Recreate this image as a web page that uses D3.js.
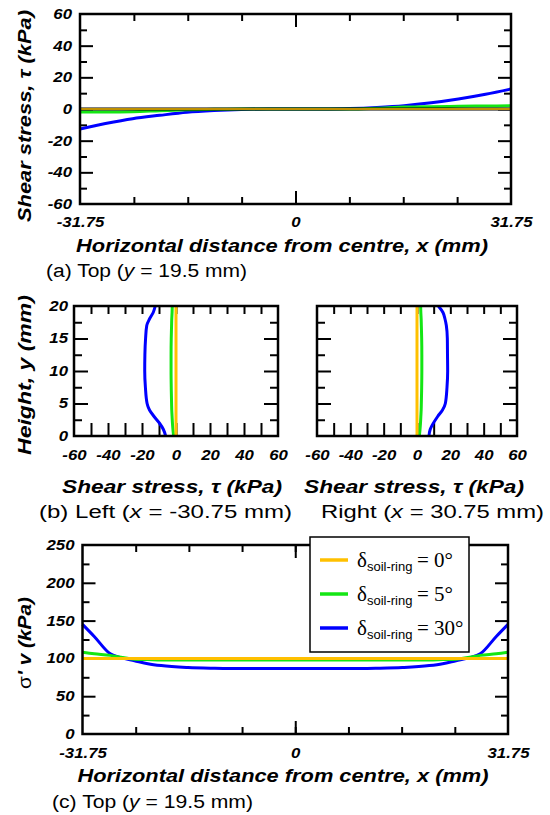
<!DOCTYPE html>
<html>
<head>
<meta charset="utf-8">
<script src="https://cdn.jsdelivr.net/npm/d3@7"></script>
<style>
  body { margin: 0; background: #fff; }
  svg { display: block; }
</style>
</head>
<body>
<div id="chart"></div>
<script>
// (a) shear stress along the top surface, y = 19.5 mm
const xTop = [-31.75, -28, -24, -20, -16, -12, -8, -4, 0, 4, 8, 12, 16, 20, 24, 28, 31.75];
const tauTop0 = [0, 0, 0, 0, 0, 0, 0, 0, 0, 0, 0, 0, 0, 0, 0, 0, 0];
const tauTop5 = [-1.9, -1.9, -1.7, -1.1, -0.5, -0.2, 0, 0, 0, 0, 0, 0.5, 1.2, 1.5, 1.7, 1.9, 2.0];
const tauTop30 = [-12.6, -9.2, -6.1, -4.0, -2.1, -1.0, -0.3, 0, 0, 0, 0.3, 1.0, 2.1, 3.9, 6.3, 9.3, 12.6];

// (b) shear stress along the walls
const yWall = [0, 1, 2, 3, 4, 5, 7.5, 10, 12.5, 15, 17, 18, 19, 20];
const tauLeft0 = [0, 0, 0, 0, 0, 0, 0, 0, 0, 0, 0, 0, 0, 0];
const tauLeft5 = [-1.4, -1.8, -2.1, -2.3, -2.5, -2.6, -2.8, -2.9, -2.9, -2.8, -2.6, -2.5, -2.3, -2.2];
const tauLeft30 = [-6.1, -7.4, -9.8, -12.9, -15.6, -17.0, -18.0, -18.4, -18.3, -17.9, -17.2, -15.6, -13.4, -12.2];
const tauRight0 = [0, 0, 0, 0, 0, 0, 0, 0, 0, 0, 0, 0, 0, 0];
const tauRight5 = [1.4, 1.8, 2.1, 2.3, 2.5, 2.6, 2.8, 2.9, 2.9, 2.8, 2.6, 2.5, 2.3, 2.2];
const tauRight30 = [7.2, 7.9, 9.9, 12.4, 15.3, 17.0, 18.0, 18.4, 18.3, 18.2, 17.6, 16.8, 15.6, 12.8];

// (c) vertical effective stress along the top
const xBot = [-31.75, -30, -27.6, -26, -24, -22, -20, -16, -12, -8, -4, 0, 4, 8, 12, 16, 20, 22, 24, 26, 27.6, 30, 31.75];
const sig0 = [100, 100, 100, 100, 100, 100, 100, 100, 100, 100, 100, 100, 100, 100, 100, 100, 100, 100, 100, 100, 100, 100, 100];
const sig5 = [108, 106, 104, 101.5, 99, 98.5, 98, 98, 98, 98, 98, 98, 98, 98, 98, 98, 98, 98.5, 99, 101.5, 104, 106, 108];
const sig30 = [145, 129, 106, 101, 97, 93, 90.5, 88, 87, 86.5, 86.5, 86.5, 86.5, 86.5, 87, 88, 90.5, 93, 97, 101, 106, 129, 145];

const legendAngles = ["0°", "5°", "30°"];
const colors = ["#ffc000", "#14e614", "#0000ff"];

const FONT = "'Liberation Sans', Arial, sans-serif";
const SERIF = "'Liberation Serif', 'Times New Roman', serif";
const sx = 1.2; // tick labels in the figure are wide

const svg = d3.select("#chart").append("svg")
    .attr("width", 550)
    .attr("height", 815)
    .style("font-family", FONT);

// inward ticks, no labels
function ticks(g, axisFn, scale, pos, vals, len, vertical) {
  const a = g.append("g")
      .attr("transform", vertical ? `translate(${pos},0)` : `translate(0,${pos})`)
      .call(axisFn(scale).tickValues(vals).tickSize(-len).tickFormat(""));
  a.select(".domain").remove();
  a.selectAll("line").attr("stroke", "#000").attr("stroke-width", 2);
}

function tickLabels(g, axisFn, scale, pos, vals, fmt, pad, vertical) {
  const a = g.append("g")
      .attr("transform", vertical ? `translate(${pos},0)` : `translate(0,${pos})`)
      .call(axisFn(scale).tickValues(vals).tickFormat(fmt).tickSize(0).tickPadding(pad));
  a.select(".domain").remove();
  a.selectAll("line").remove();
  a.selectAll("text")
      .attr("font-family", FONT)
      .attr("font-size", 14)
      .attr("font-weight", "bold")
      .attr("font-style", "italic")
      .attr("fill", "#000")
      .attr("transform", `scale(${sx},1)`);
}

function frame(g, x, y) {
  const [x0, x1] = x.range(), [y0, y1] = y.range();
  g.append("rect")
      .attr("x", x0).attr("y", y1)
      .attr("width", x1 - x0).attr("height", y0 - y1)
      .attr("fill", "none").attr("stroke", "#000").attr("stroke-width", 2.5);
}

function title(g, parts, x, y, len, opts = {}) {
  const t = g.append("text")
      .attr("font-family", FONT)
      .attr("font-size", opts.size || 17.5)
      .attr("font-weight", opts.weight || "bold")
      .attr("font-style", opts.style || "italic")
      .attr("text-anchor", opts.anchor || "middle")
      .attr("textLength", len)
      .attr("lengthAdjust", "spacingAndGlyphs");
  if (opts.rotate) t.attr("transform", `translate(${x},${y}) rotate(-90)`);
  else t.attr("x", x).attr("y", y);
  parts.forEach(p => {
    const s = t.append("tspan").text(p.t);
    if (p.style) s.attr("font-style", p.style);
    if (p.family) s.attr("font-family", p.family);
    if (p.weight) s.attr("font-weight", p.weight);
  });
  return t;
}

const fmtX = d => d === 0 ? "0" : d.toFixed(2);
const fmtInt = d => String(d); // plain hyphen for negatives, as in the figure

// ---------- (a) ----------
const gA = svg.append("g");
const xA = d3.scaleLinear().domain([-31.75, 31.75]).range([80, 511]);
const yA = d3.scaleLinear().domain([-60, 60]).range([204, 14]);
const xMinor = d3.range(-3, 4).map(i => i * 31.75 / 4);

ticks(gA, d3.axisBottom, xA, 204, xMinor, 7);
ticks(gA, d3.axisTop, xA, 14, xMinor, 7);
ticks(gA, d3.axisBottom, xA, 204, [0], 13);
ticks(gA, d3.axisTop, xA, 14, [0], 13);
ticks(gA, d3.axisLeft, yA, 80, [-40, -20, 0, 20, 40], 13, true);
ticks(gA, d3.axisRight, yA, 511, [-40, -20, 0, 20, 40], 13, true);
ticks(gA, d3.axisLeft, yA, 80, [-50, -30, -10, 10, 30, 50], 7, true);
ticks(gA, d3.axisRight, yA, 511, [-50, -30, -10, 10, 30, 50], 7, true);
tickLabels(gA, d3.axisBottom, xA, 204, [-31.75, 0, 31.75], fmtX, 13);
tickLabels(gA, d3.axisLeft, yA, 80, d3.range(-60, 61, 20), fmtInt, 8 / sx, true);

const lineA = d3.line().x(d => xA(d[0])).y(d => yA(d[1])).curve(d3.curveMonotoneX);
gA.append("path").datum(d3.zip(xTop, tauTop30)).attr("d", lineA)
    .attr("fill", "none").attr("stroke", colors[2]).attr("stroke-width", 3);
gA.append("path").datum(d3.zip(xTop, tauTop5)).attr("d", lineA)
    .attr("fill", "none").attr("stroke", colors[1]).attr("stroke-width", 3);
gA.append("path").datum(d3.zip(xTop, tauTop0)).attr("d", lineA)
    .attr("fill", "none").attr("stroke", "#000").attr("stroke-width", 3);
gA.append("path").datum(d3.zip(xTop, tauTop0)).attr("d", lineA)
    .attr("fill", "none").attr("stroke", colors[0]).attr("stroke-width", 1.6);
frame(gA, xA, yA);

title(gA, [{t: "Shear stress, τ (kPa)"}], 31, 116, 212, {size: 18, rotate: true});
title(gA, [{t: "Horizontal distance from centre, x (mm)"}], 282, 252, 412);
title(gA, [{t: "(a) Top ("}, {t: "y", style: "italic"}, {t: " = 19.5 mm)"}], 46, 277, 201,
    {size: 18, weight: "normal", style: "normal", anchor: "start"});

// ---------- (b) ----------
const gB = svg.append("g");
const yB = d3.scaleLinear().domain([0, 20]).range([436, 306]);
const xBL = d3.scaleLinear().domain([-60, 60]).range([74, 278]);
const xBR = d3.scaleLinear().domain([-60, 60]).range([317, 517]);
const tauTicks = d3.range(-50, 51, 10);

[[xBL, tauLeft0, tauLeft5, tauLeft30], [xBR, tauRight0, tauRight5, tauRight30]].forEach(([x, t0, t5, t30], i) => {
  const [xl, xr] = x.range();
  ticks(gB, d3.axisBottom, x, 436, tauTicks, 13);
  ticks(gB, d3.axisTop, x, 306, tauTicks, 8);
  ticks(gB, d3.axisLeft, yB, xl, [5, 10, 15], 14, true);
  ticks(gB, d3.axisRight, yB, xr, [5, 10, 15], 14, true);
  ticks(gB, d3.axisLeft, yB, xl, [2.5, 7.5, 12.5, 17.5], 8, true);
  ticks(gB, d3.axisRight, yB, xr, [2.5, 7.5, 12.5, 17.5], 8, true);
  tickLabels(gB, d3.axisBottom, x, 436, d3.range(-60, 61, 20), fmtInt, 14);

  const line = d3.line().x(d => x(d[0])).y(d => yB(d[1])).curve(d3.curveMonotoneY);
  [t30, t5, t0].forEach((vals, k) => {
    gB.append("path").datum(d3.zip(vals, yWall)).attr("d", line)
        .attr("fill", "none").attr("stroke", colors[2 - k]).attr("stroke-width", 3);
  });
  frame(gB, x, yB);
  title(gB, [{t: "Shear stress, τ (kPa)"}], i === 0 ? 172 : 414, 493, 220);
});
tickLabels(gB, d3.axisLeft, yB, 74, [0, 5, 10, 15, 20], fmtInt, 6 / sx, true);

title(gB, [{t: "Height, y (mm)"}], 31, 375, 160, {size: 18, rotate: true});
title(gB, [{t: "(b) Left ("}, {t: "x", style: "italic"}, {t: " = -30.75 mm)"}], 39, 518, 253,
    {size: 18, weight: "normal", style: "normal", anchor: "start"});
title(gB, [{t: "Right ("}, {t: "x", style: "italic"}, {t: " = 30.75 mm)"}], 321, 518, 223,
    {size: 18, weight: "normal", style: "normal", anchor: "start"});

// ---------- (c) ----------
const gC = svg.append("g");
const xC = d3.scaleLinear().domain([-31.75, 31.75]).range([82.5, 508]);
const yC = d3.scaleLinear().domain([0, 250]).range([734, 545]);

ticks(gC, d3.axisBottom, xC, 734, xMinor, 7);
ticks(gC, d3.axisTop, xC, 545, xMinor, 7);
ticks(gC, d3.axisBottom, xC, 734, [0], 13);
ticks(gC, d3.axisTop, xC, 545, [0], 13);
ticks(gC, d3.axisLeft, yC, 82.5, [50, 100, 150, 200], 13, true);
ticks(gC, d3.axisRight, yC, 508, [50, 100, 150, 200], 13, true);
ticks(gC, d3.axisLeft, yC, 82.5, [25, 75, 125, 175, 225], 7, true);
ticks(gC, d3.axisRight, yC, 508, [25, 75, 125, 175, 225], 7, true);
tickLabels(gC, d3.axisBottom, xC, 734, [-31.75, 0, 31.75], fmtX, 14);
tickLabels(gC, d3.axisLeft, yC, 82.5, d3.range(0, 251, 50), fmtInt, 8 / sx, true);

const lineC = d3.line().x(d => xC(d[0])).y(d => yC(d[1])).curve(d3.curveMonotoneX);
[sig30, sig5, sig0].forEach((vals, k) => {
  gC.append("path").datum(d3.zip(xBot, vals)).attr("d", lineC)
      .attr("fill", "none").attr("stroke", colors[2 - k]).attr("stroke-width", 3);
});
frame(gC, xC, yC);

title(gC, [{t: "σ", style: "normal", weight: "normal"}, {t: "' v (kPa)"}], 31, 643, 92, {size: 18, rotate: true});
title(gC, [{t: "Horizontal distance from centre, x (mm)"}], 283, 782, 411);
title(gC, [{t: "(c) Top ("}, {t: "y", style: "italic"}, {t: " = 19.5 mm)"}], 52, 808, 201,
    {size: 18, weight: "normal", style: "normal", anchor: "start"});

// legend
const leg = svg.append("g");
leg.append("rect")
    .attr("x", 310).attr("y", 537).attr("width", 159).attr("height", 115)
    .attr("fill", "#fff").attr("stroke", "#000").attr("stroke-width", 1.5);
const legY = d3.scalePoint().domain(legendAngles).range([560, 628]);
legendAngles.forEach((a, i) => {
  const y = legY(a);
  leg.append("line")
      .attr("x1", 320).attr("x2", 348).attr("y1", y).attr("y2", y)
      .attr("stroke", colors[i]).attr("stroke-width", 3.5);
  const t = leg.append("text")
      .attr("x", 357).attr("y", y + 7)
      .attr("font-family", SERIF).attr("font-size", 21);
  t.append("tspan").text("δ");
  t.append("tspan").attr("font-family", FONT).attr("font-size", 13).attr("dy", 4).text("soil-ring");
  t.append("tspan").attr("x", 417).attr("dy", -4).text("= " + a);
});
</script>
</body>
</html>
